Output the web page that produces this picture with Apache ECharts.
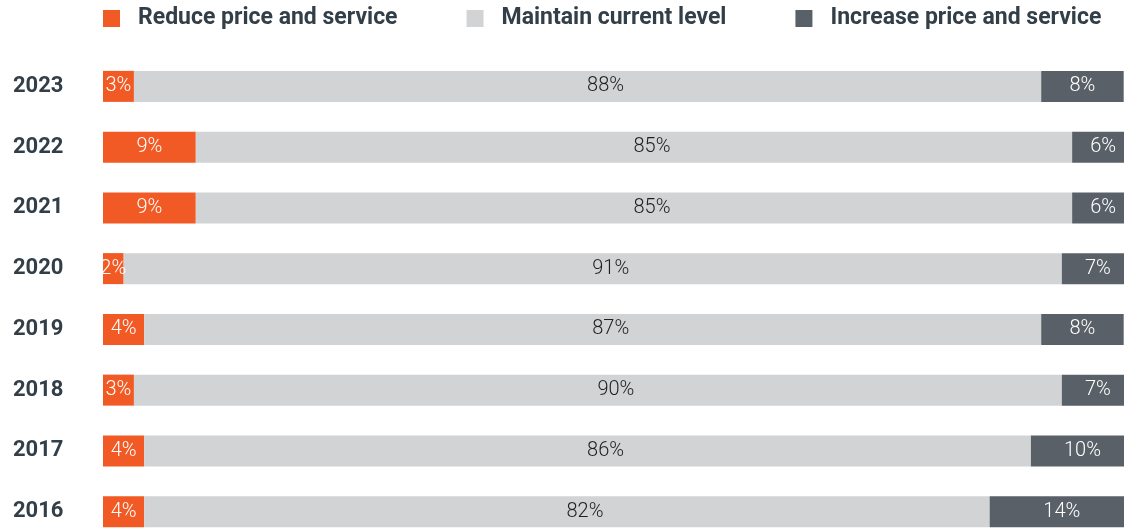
<!DOCTYPE html>
<html>
<head>
<meta charset="utf-8">
<script src="https://cdn.jsdelivr.net/npm/echarts@6/dist/echarts.min.js"></script>
<style>
  html, body { margin: 0; padding: 0; background: #fff; }
  #chart { width: 1124px; height: 528px; }
</style>
</head>
<body>
<div id="chart"></div>
<script>
  // rows from top to bottom
  const years = ['2023', '2022', '2021', '2020', '2019', '2018', '2017', '2016']
  const reduce = [3, 9, 9, 2, 4, 3, 4, 4]
  const maintain = [88, 85, 85, 91, 87, 90, 86, 82]
  const increase = [8, 6, 6, 7, 8, 7, 10, 14]

  const textColor = '#333f48'
  const chart = echarts.init(document.getElementById('chart'))

  const labelBase = {
    show: true,
    position: 'inside',
    fontFamily: 'Roboto',
    fontWeight: 300,
    fontSize: 20,
    formatter: '{c}%'
  }

  chart.setOption({
    animation: false,
    legend: {
      left: 98,
      top: 2,
      itemWidth: 17,
      itemHeight: 17,
      itemGap: 69,
      icon: 'rect',
      textStyle: {
        color: textColor,
        fontFamily: 'Roboto',
        fontWeight: 'bold',
        fontSize: 23,
        padding: [0, 0, 0, 13]
      },
      data: ['Reduce price and service', 'Maintain current level', 'Increase price and service']
    },
    grid: {
      left: 103,
      right: -10,
      top: 56,
      bottom: -14,
      outerBoundsMode: 'none',
      containLabel: false
    },
    xAxis: {
      type: 'value',
      min: 0,
      max: 100,
      show: false
    },
    yAxis: {
      type: 'category',
      data: years,
      inverse: true,
      axisLine: { show: false },
      axisTick: { show: false },
      axisLabel: {
        align: 'left',
        margin: 90,
        color: textColor,
        fontFamily: 'Roboto',
        fontWeight: 'bold',
        fontSize: 22
      }
    },
    series: [
      {
        name: 'Reduce price and service',
        type: 'bar',
        stack: 'all',
        barWidth: 31,
        itemStyle: { color: '#f15a24' },
        label: { ...labelBase, color: '#fff' },
        data: reduce
      },
      {
        name: 'Maintain current level',
        type: 'bar',
        stack: 'all',
        barWidth: 31,
        itemStyle: { color: '#d1d3d4' },
        label: { ...labelBase, color: '#1e1e1e', offset: [18, 0] },
        data: maintain
      },
      {
        name: 'Increase price and service',
        type: 'bar',
        stack: 'all',
        barWidth: 31,
        itemStyle: { color: '#5a6068' },
        label: { ...labelBase, color: '#fff' },
        data: increase
      }
    ]
  })
</script>
</body>
</html>
